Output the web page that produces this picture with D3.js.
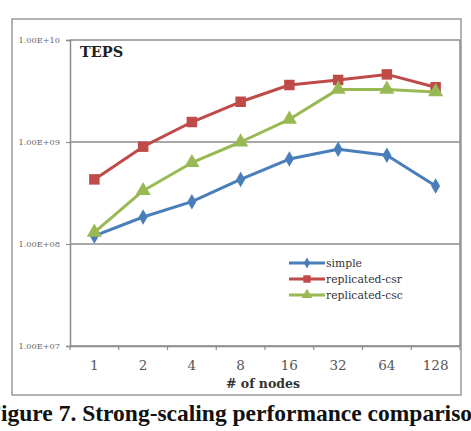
<!DOCTYPE html>
<html><head><meta charset="utf-8">
<script src="https://cdn.jsdelivr.net/npm/d3@7"></script>
<style>body{margin:0;background:#fff}svg{display:block}</style>
</head><body>
<svg id="c" width="471" height="431"></svg>
<script>
const categories = ["1","2","4","8","16","32","64","128"];
const simple = [1.2e8, 1.84e8, 2.6e8, 4.3e8, 6.8e8, 8.5e8, 7.4e8, 3.7e8];
const replicatedCsr = [4.3e8, 9.0e8, 1.57e9, 2.48e9, 3.62e9, 4.06e9, 4.6e9, 3.44e9];
const replicatedCsc = [1.3e8, 3.33e8, 6.27e8, 1.0e9, 1.67e9, 3.28e9, 3.28e9, 3.1e9];
const yTicks = [1e7, 1e8, 1e9, 1e10];
const yTickLabels = ["1.00E+07","1.00E+08","1.00E+09","1.00E+10"];
const seriesNames = ["simple","replicated-csr","replicated-csc"];

const svg = d3.select("#c");
const L = 70, R = 460, T = 40, B = 346;
const serif = "'DejaVu Serif',serif";
const tserif = "'Liberation Serif','DejaVu Serif',serif";

// outer chart border
svg.append("rect").attr("x",12).attr("y",19).attr("width",449).attr("height",376)
  .attr("fill","none").attr("stroke","#9a9a9a").attr("stroke-width",1.5);

const x = d3.scaleBand().domain(categories).range([L, R]);
const y = d3.scaleLog().domain([1e7, 1e10]).range([B, T]);

// gridlines
svg.append("g").selectAll("line").data(yTicks).join("line")
  .attr("x1",L).attr("x2",R).attr("y1",d=>y(d)).attr("y2",d=>y(d))
  .attr("stroke","#8c8c8c").attr("stroke-width",1.5);
svg.append("line").attr("x1",R).attr("x2",R).attr("y1",T).attr("y2",B)
  .attr("stroke","#8c8c8c").attr("stroke-width",1.5);

// y axis
const yAxis = d3.axisLeft(y).tickValues(yTicks).tickFormat((d,i)=>yTickLabels[i]).tickSize(4).tickPadding(6);
const gy = svg.append("g").attr("transform",`translate(${L},0)`).call(yAxis);
gy.select(".domain").attr("stroke","#8c8c8c").attr("stroke-width",1.5);
gy.selectAll(".tick line").attr("stroke","#8c8c8c").attr("stroke-width",1.2);
gy.selectAll("text").attr("font-family",serif).attr("font-size",8.2).attr("fill","#666");

// x axis
const xAxis = d3.axisBottom(x).tickSize(0).tickPadding(14);
const gx = svg.append("g").attr("transform",`translate(0,${B})`).call(xAxis);
gx.select(".domain").attr("stroke","#8c8c8c").attr("stroke-width",1.5);
gx.selectAll("text").attr("font-family",serif).attr("font-size",13.5).attr("fill","#555");
const bounds = categories.map(c=>x(c)).concat([x(categories[categories.length-1])+x.bandwidth()]);
svg.append("g").selectAll("line").data(bounds).join("line")
  .attr("x1",d=>d).attr("x2",d=>d).attr("y1",B).attr("y2",B+4)
  .attr("stroke","#8c8c8c").attr("stroke-width",1.2);

// axis title
svg.append("text").attr("x",263).attr("y",388).attr("text-anchor","middle")
  .attr("font-family",serif).attr("font-size",12.5).attr("font-weight","bold").attr("fill","#333")
  .text("# of nodes");

// TEPS label
svg.append("text").attr("x",80).attr("y",57).attr("font-family",serif).attr("font-size",14.5)
  .attr("font-weight","bold").attr("fill","#222").text("TEPS");

const colors = ["#4a7ebb","#be4b48","#98b954"];
const data = [simple, replicatedCsr, replicatedCsc];
const cx = c => x(c) + x.bandwidth()/2;
const line = d3.line().x((d,i)=>cx(categories[i])).y(d=>y(d));

const symbols = [d3.symbolDiamond, d3.symbolSquare, d3.symbolTriangle];
const sizes = [70, 110, 100];

data.forEach((vals, s) => {
  svg.append("path").datum(vals).attr("d", line).attr("fill","none")
    .attr("stroke",colors[s]).attr("stroke-width",3).attr("stroke-linejoin","round");
  svg.append("g").selectAll("path").data(vals).join("path")
    .attr("transform",(d,i)=>`translate(${cx(categories[i])},${y(d)})`)
    .attr("d", d3.symbol().type(symbols[s]).size(sizes[s]))
    .attr("fill",colors[s]);
});

// legend
const lg = svg.append("g");
seriesNames.forEach((n, i) => {
  const ly = 263 + i*16;
  lg.append("line").attr("x1",289).attr("x2",325).attr("y1",ly).attr("y2",ly)
    .attr("stroke",colors[i]).attr("stroke-width",3);
  lg.append("path").attr("transform",`translate(307,${ly})`)
    .attr("d", d3.symbol().type(symbols[i]).size(sizes[i]*0.5)).attr("fill",colors[i]);
  lg.append("text").attr("x",326).attr("y",ly+4).attr("font-family",serif).attr("font-size",10.8)
    .attr("fill","#333").text(n);
});

// caption (clipped at left like reference)
const capSize = 23.5;
const cap = svg.append("text").attr("y",421).attr("font-family",tserif).attr("font-size",capSize)
  .attr("font-weight","bold").attr("fill","#111").text("Figure 7. Strong-scaling performance comparison");
const tmp = svg.append("text").attr("font-family",tserif).attr("font-size",capSize).attr("font-weight","bold").text("F");
const fw = tmp.node().getComputedTextLength(); tmp.remove();
cap.attr("x", -fw + 1);
</script>
</body></html>
